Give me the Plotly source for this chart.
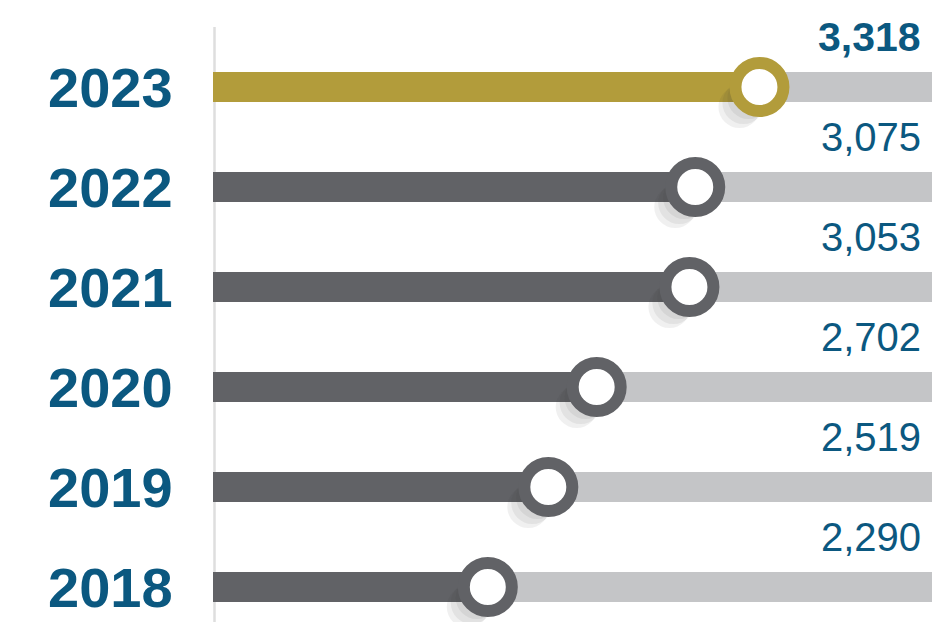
import plotly.graph_objects as go

years = ["2018", "2019", "2020", "2021", "2022", "2023"]
values = [2290, 2519, 2702, 3053, 3075, 3318]
value_labels = ["2,290", "2,519", "2,702", "3,053", "3,075", "3,318"]
highlight_year = "2023"

X_MIN, X_MAX = 1250, 3971
BLUE = "#0b5880"
DARK = "#616266"
GOLD = "#b29c3b"
TRACK = "#c4c5c7"

rows = list(range(len(years)))
colors = [GOLD if y == highlight_year else DARK for y in years]

# px -> data conversions (plot width 719 px, 100 px per row)
px_x = (X_MAX - X_MIN) / 719.0
px_y = 1 / 100.0

fig = go.Figure()

# light track
fig.add_trace(go.Bar(
    orientation="h", y=rows, x=[X_MAX - X_MIN] * len(rows), base=[X_MIN] * len(rows),
    width=0.3, marker=dict(color=TRACK, line=dict(width=0)), hoverinfo="skip", showlegend=False))
# value bar
fig.add_trace(go.Bar(
    orientation="h", y=rows, x=[v - X_MIN for v in values], base=[X_MIN] * len(rows),
    width=0.3, marker=dict(color=colors, line=dict(width=0)), hoverinfo="skip", showlegend=False))

# long shadows (stacked soft circles towards lower-left)
for k in [0.3, 0.55, 0.8, 1.0]:
    fig.add_trace(go.Scatter(
        x=[v - 20 * k * px_x for v in values], y=[r - 20 * k * px_y for r in rows], mode="markers",
        marker=dict(size=42, color="rgba(60,60,60,0.075)", line=dict(width=0)),
        hoverinfo="skip", showlegend=False))

# ring markers
fig.add_trace(go.Scatter(
    x=values, y=rows, mode="markers",
    marker=dict(size=48, color="white", line=dict(color=colors, width=12)),
    hoverinfo="skip", showlegend=False))

# value labels
for r, lab, y in zip(rows, value_labels, years):
    bold = y == highlight_year
    fig.add_annotation(
        x=X_MAX, y=r + 0.5, xref="x", yref="y", text=f"<b>{lab}</b>" if bold else lab,
        showarrow=False, xanchor="right", yanchor="middle", xshift=-9,
        font=dict(family="Liberation Sans", size=40 if not bold else 41, color=BLUE))

# year labels
for r, y in zip(rows, years):
    fig.add_annotation(
        x=0, y=r, xref="paper", yref="y", text=f"<b>{y}</b>", showarrow=False,
        xanchor="right", yanchor="middle", xshift=-38,
        font=dict(family="Liberation Sans", size=56, color=BLUE))

# vertical separator
fig.add_shape(type="line", xref="x", yref="y", x0=X_MIN + 1.5 * px_x, x1=X_MIN + 1.5 * px_x,
              y0=5.6, y1=-0.35, line=dict(color="#dedede", width=2.5), layer="below")

fig.update_layout(
    width=932, height=622, margin=dict(l=213, r=0, t=0, b=0),
    paper_bgcolor="white", plot_bgcolor="white", barmode="overlay",
    xaxis=dict(range=[X_MIN, X_MAX], visible=False, fixedrange=True),
    yaxis=dict(range=[-0.35, 5.87], visible=False, fixedrange=True),
    showlegend=False,
)

fig.write_html("out.html")
